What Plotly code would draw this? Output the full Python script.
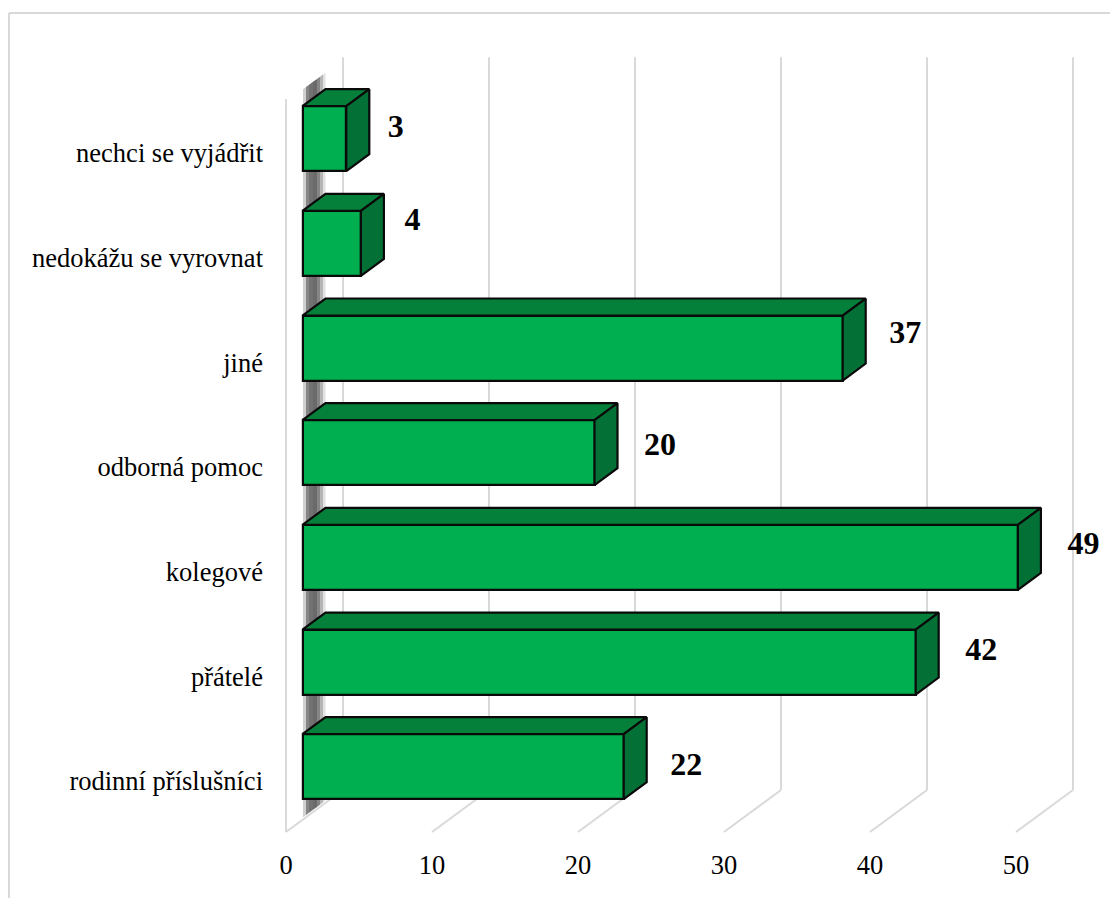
import plotly.graph_objects as go

categories = ["rodinní příslušníci", "přátelé", "kolegové", "odborná pomoc", "jiné",
              "nedokážu se vyrovnat", "nechci se vyjádřit"]
values = [22, 42, 49, 20, 37, 4, 3]
x_ticks = [0, 10, 20, 30, 40, 50]

# label nudges (pixels right of bar end / above bar centre)
label_dx = [62.5, 65.5, 65.5, 65.5, 62.5, 51.5, 49.5]
label_dy = [-0.5, 10, 11, 6, 13, 21, 9.5]

W, H = 1110, 898
L, R, T, B = 270, 1110, 40, 846
ZERO_PX, UNIT_X = 286, 14.6
CAT0_PX, UNIT_Y = 779.7, 104.67

def ux(px):
    return px / UNIT_X

def uy(px):
    return px / UNIT_Y

x_range = [(L - ZERO_PX) / UNIT_X, (R - ZERO_PX) / UNIT_X]
y_range = [(CAT0_PX - B) / UNIT_Y, (CAT0_PX - T) / UNIT_Y]

FRONT = "#00B050"
TOP = "#05803A"
SIDE = "#037036"
EDGE = "#0a0a0a"
GRID = "#D9D9D9"
TEXT = "#000000"
SERIF = "Liberation Serif"
EDGE_W = 2.2

bar_off_x, bar_off_y = ux(16.5), uy(13)
depth_x, depth_y = ux(23), uy(17)
wall_x, wall_y = ux(57), uy(42)
bar_h = 65 / UNIT_Y
y_low, y_high = -0.5, 6.5

shapes = []
def seg(x0, y0, x1, y1):
    shapes.append(dict(type="line", xref="x", yref="y", x0=x0, y0=y0, x1=x1, y1=y1,
                       layer="below", line=dict(color=GRID, width=2)))

# side wall front edge, floor lines and back-wall lines
seg(0, y_low, 0, y_high)
for t in x_ticks:
    seg(t, y_low, t + wall_x, y_low + wall_y)
    seg(t + wall_x, y_low + wall_y, t + wall_x, y_high + wall_y)

# dark strip standing behind the bar bases
strip_bands = [(303, 306, "#CFCFCF"), (306, 309, "#858585"), (309, 313, "#727272"),
               (313, 317, "#6A6A6A"), (317, 320, "#858585"), (320, 323, "#B5B5B5"),
               (323, 325.5, "#E2E2E2")]
slope = 42 / 57
for a, b, col in strip_bands:
    xa, xb = ux(a - ZERO_PX), ux(b - ZERO_PX)
    ya_lo = uy(CAT0_PX - (815 - (a - 306) * slope))
    yb_lo = uy(CAT0_PX - (815 - (b - 306) * slope))
    ya_hi = uy(CAT0_PX - (87 - (a - 306) * slope))
    yb_hi = uy(CAT0_PX - (87 - (b - 306) * slope))
    shapes.append(dict(type="path", xref="x", yref="y", layer="below",
                       path=f"M{xa},{ya_lo} L{xb},{yb_lo} L{xb},{yb_hi} L{xa},{ya_hi} Z",
                       fillcolor=col, line=dict(width=0)))

# outer frame (top and left only)
shapes.append(dict(type="line", xref="paper", yref="paper",
                   x0=(9 - L) / (R - L), x1=(W - L) / (R - L),
                   y0=(B - 13) / (B - T), y1=(B - 13) / (B - T),
                   line=dict(color=GRID, width=2)))
shapes.append(dict(type="line", xref="paper", yref="paper",
                   x0=(9 - L) / (R - L), x1=(9 - L) / (R - L),
                   y0=(B - 13) / (B - T), y1=(B - H) / (B - T),
                   line=dict(color=GRID, width=2)))

fig = go.Figure()

fig.add_trace(go.Bar(
    orientation="h", y=[i + bar_off_y for i in range(len(values))], x=values,
    base=[bar_off_x] * len(values), width=bar_h,
    marker=dict(color=FRONT, line=dict(color=EDGE, width=EDGE_W)),
    hoverinfo="skip", showlegend=False))

for i, v in enumerate(values):
    x0 = bar_off_x
    x1 = bar_off_x + v
    yc = i + bar_off_y
    y0, y1 = yc - bar_h / 2, yc + bar_h / 2
    fig.add_trace(go.Scatter(
        x=[x0, x0 + depth_x, x1 + depth_x, x1, x0],
        y=[y1, y1 + depth_y, y1 + depth_y, y1, y1],
        mode="lines", fill="toself", fillcolor=TOP, line=dict(color=EDGE, width=EDGE_W),
        hoverinfo="skip", showlegend=False))
    fig.add_trace(go.Scatter(
        x=[x1, x1 + depth_x, x1 + depth_x, x1, x1],
        y=[y1, y1 + depth_y, y0 + depth_y, y0, y1],
        mode="lines", fill="toself", fillcolor=SIDE, line=dict(color=EDGE, width=EDGE_W),
        hoverinfo="skip", showlegend=False))

fig.add_trace(go.Scatter(
    x=[bar_off_x + v + ux(d) for v, d in zip(values, label_dx)],
    y=[i + bar_off_y + uy(d) for i, d in enumerate(label_dy)],
    mode="text", text=[str(v) for v in values], textposition="middle center",
    textfont=dict(family=SERIF, size=32, color=TEXT, weight=700),
    hoverinfo="skip", showlegend=False))

fig.update_layout(
    width=W, height=H, autosize=False,
    margin=dict(l=L, r=W - R, t=T, b=H - B, pad=0),
    paper_bgcolor="white", plot_bgcolor="white",
    bargap=0, shapes=shapes,
    xaxis=dict(range=x_range, tickmode="array", tickvals=x_ticks,
               ticktext=[str(t) for t in x_ticks], showgrid=False, zeroline=False,
               showline=False, ticks="", ticklabelstandoff=0,
               tickfont=dict(family=SERIF, size=26.5, color=TEXT)),
    yaxis=dict(range=y_range, tickmode="array",
               tickvals=[i - uy(1.5) for i in range(len(categories))],
               ticktext=categories, showgrid=False, zeroline=False, showline=False,
               ticks="", ticklabelstandoff=6,
               tickfont=dict(family=SERIF, size=26.5, color=TEXT)),
)

fig.write_html("out.html", config={"displayModeBar": False},
               post_script="document.body.style.margin='0';document.body.style.overflow='hidden';")
